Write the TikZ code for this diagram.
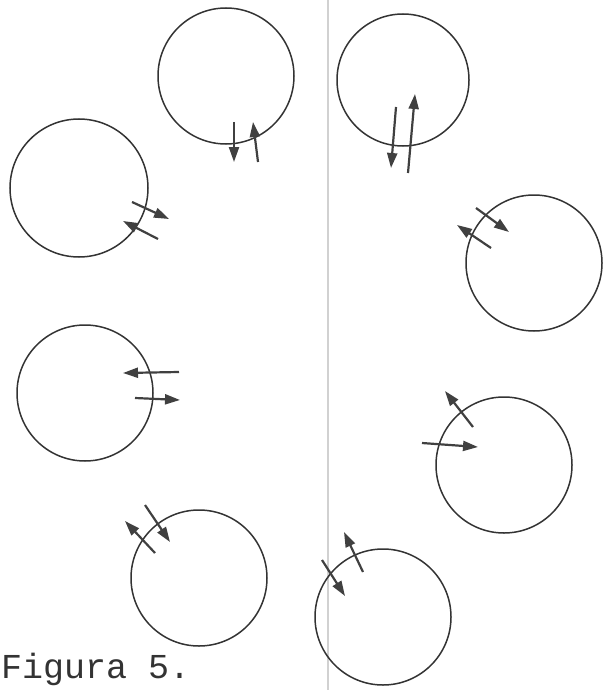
\documentclass[tikz,border=0pt]{standalone}
\usepackage{fontspec}
\newfontfamily\typewriter{Liberation Mono}
\usetikzlibrary{arrows.meta}
\begin{document}
\begin{tikzpicture}[x=1pt,y=-1pt,
  ring/.style={circle,draw=black!80,line width=1.5pt,inner sep=0pt,minimum size=136pt},
  spin/.style={draw=black!75,line width=2.2pt,-{Triangle[length=15pt,width=10pt]}}]
\useasboundingbox (0,0) rectangle (602,690);
\draw[black!18,line width=2pt] (328,0) -- (328,690);
% circles
\node[ring] (c1) at (226,76) {};
\node[ring,minimum size=132pt] (c2) at (403,80) {};
\node[ring,minimum size=138pt] (c3) at (79,188) {};
\node[ring] (c4) at (534,263) {};
\node[ring] (c5) at (85,393) {};
\node[ring] (c6) at (504,465) {};
\node[ring] (c7) at (199,578) {};
\node[ring] (c8) at (383,617) {};
% arrows
\coordinate (a1s) at (234,122); \coordinate (a1e) at (234,162);
\coordinate (b1s) at (258,162); \coordinate (b1e) at (253,122);
\draw[spin] (a1s) -- (a1e);
\draw[spin] (b1s) -- (b1e);
\coordinate (a2s) at (396,107); \coordinate (a2e) at (391,168);
\coordinate (b2s) at (408,173); \coordinate (b2e) at (415,94);
\draw[spin] (a2s) -- (a2e);
\draw[spin] (b2s) -- (b2e);
\coordinate (a3s) at (132,202); \coordinate (a3e) at (169,219);
\coordinate (b3s) at (158,239); \coordinate (b3e) at (123,221);
\draw[spin] (a3s) -- (a3e);
\draw[spin] (b3s) -- (b3e);
\coordinate (a4s) at (476,208); \coordinate (a4e) at (509,232);
\coordinate (b4s) at (491,248); \coordinate (b4e) at (457,225);
\draw[spin] (a4s) -- (a4e);
\draw[spin] (b4s) -- (b4e);
\coordinate (a5s) at (179,372); \coordinate (a5e) at (123,373);
\coordinate (b5s) at (135,398); \coordinate (b5e) at (180,400);
\draw[spin] (a5s) -- (a5e);
\draw[spin] (b5s) -- (b5e);
\coordinate (a6s) at (473,427); \coordinate (a6e) at (445,391);
\coordinate (b6s) at (422,443); \coordinate (b6e) at (478,447);
\draw[spin] (a6s) -- (a6e);
\draw[spin] (b6s) -- (b6e);
\coordinate (a7s) at (145,505); \coordinate (a7e) at (170,542);
\coordinate (b7s) at (155,553); \coordinate (b7e) at (125,521);
\draw[spin] (a7s) -- (a7e);
\draw[spin] (b7s) -- (b7e);
\coordinate (a8s) at (322,560); \coordinate (a8e) at (345,596);
\coordinate (b8s) at (363,572); \coordinate (b8e) at (344,532);
\draw[spin] (a8s) -- (a8e);
\draw[spin] (b8s) -- (b8e);
% caption
\node[anchor=base west,inner sep=0pt,text=black!80,font={\typewriter\fontsize{35}{35}\selectfont}] (cap) at (1,678) {Figura 5.};
\end{tikzpicture}
\end{document}
